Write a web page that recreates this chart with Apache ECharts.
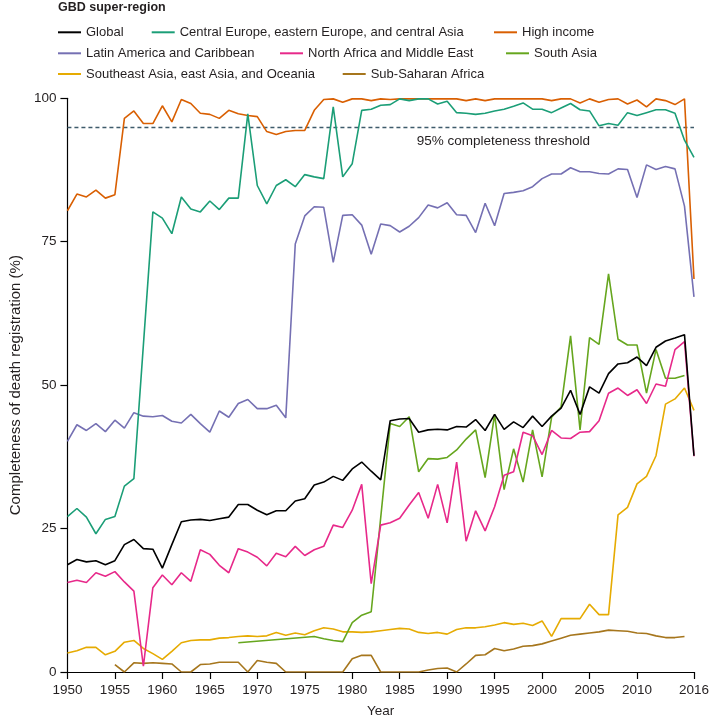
<!DOCTYPE html>
<html>
<head>
<meta charset="utf-8">
<script src="https://cdn.jsdelivr.net/npm/echarts@6/dist/echarts.min.js"></script>
<style>
html,body{margin:0;padding:0;background:#fff;}
#chart{width:712px;height:723px;}
</style>
</head>
<body>
<div id="chart"></div>
<script>
// ---------------- data ----------------
const years = [1950,1951,1952,1953,1954,1955,1956,1957,1958,1959,1960,1961,1962,1963,1964,1965,1966,1967,1968,1969,
  1970,1971,1972,1973,1974,1975,1976,1977,1978,1979,1980,1981,1982,1983,1984,1985,1986,1987,1988,1989,
  1990,1991,1992,1993,1994,1995,1996,1997,1998,1999,2000,2001,2002,2003,2004,2005,2006,2007,2008,2009,
  2010,2011,2012,2013,2014,2015,2016];
const xTickLabels = [1950,1955,1960,1965,1970,1975,1980,1985,1990,1995,2000,2005,2010,2016];
const yTickLabels = [0,25,50,75,100];
const thresholdValue = 95;
const thresholdText = '95% completeness threshold';

const globalVals = [18.7,19.6,19.2,19.4,18.7,19.4,22.2,23.1,21.5,21.4,18.1,22.2,26.2,26.5,26.6,26.4,26.7,27.0,29.2,29.2,
  28.2,27.4,28.1,28.1,29.8,30.2,32.6,33.1,34.1,33.4,35.4,36.6,35.0,33.5,43.8,44.1,44.2,41.8,42.2,42.3,
  42.2,42.8,42.7,44.0,42.1,44.9,42.3,43.6,42.6,44.6,42.8,44.6,46.0,49.1,44.9,49.7,48.6,52.0,53.7,53.9,
  54.9,53.4,56.6,57.7,58.2,58.8,37.7];
const centralEuropeVals = [27.1,28.5,27.0,24.1,26.6,27.1,32.4,33.7,null,80.2,79.1,76.4,82.8,80.7,80.2,82.1,80.6,82.6,82.6,97.3,
  84.8,81.6,84.8,85.8,84.6,86.7,86.3,86.0,98.5,86.3,88.6,97.9,98.1,98.8,98.9,99.9,99.6,99.9,99.9,99.0,
  99.5,97.5,97.4,97.2,97.4,97.8,98.1,98.6,99.2,98.1,98.1,97.5,98.3,99.1,98.0,97.8,95.2,95.6,95.3,97.5,
  97.0,97.5,98.0,98.0,97.4,92.7,89.7];
const highIncomeVals = [80.4,83.3,82.8,84.0,82.6,83.2,96.5,97.8,95.6,95.6,98.7,95.9,99.8,99.1,97.4,97.2,96.5,97.9,97.3,97.0,
  96.8,94.2,93.7,94.2,94.4,94.4,97.9,99.8,99.9,99.3,99.9,99.9,99.6,99.9,99.8,99.9,99.9,99.9,99.9,99.9,
  99.9,99.9,99.6,99.9,99.6,99.9,99.9,99.9,99.9,99.9,99.9,99.6,99.9,99.9,99.2,99.9,99.3,99.8,99.9,99.0,
  99.7,98.5,99.9,99.6,98.9,99.9,68.5];
const latinAmericaVals = [40.2,43.1,42.1,43.3,41.9,43.9,42.5,45.2,44.6,44.5,44.7,43.7,43.4,44.9,43.3,41.8,45.5,44.4,46.8,47.5,
  45.9,45.9,46.5,44.3,74.6,79.5,81.1,81.0,71.4,79.6,79.7,77.9,72.8,78.1,77.8,76.7,77.7,79.2,81.4,80.9,
  81.8,79.7,79.6,76.6,81.7,77.8,83.4,83.6,83.9,84.6,86.0,86.8,86.8,87.9,87.2,87.2,86.9,86.8,87.7,87.6,
  82.7,88.4,87.6,88.1,87.7,81.2,65.4];
const northAfricaVals = [15.6,16.0,15.6,17.3,16.7,17.5,15.7,14.1,1.0,14.7,16.9,15.2,17.3,15.8,21.3,20.5,18.6,17.3,21.5,20.9,
  20.0,18.5,20.7,20.1,21.9,20.3,21.3,21.9,25.6,25.2,28.2,32.7,15.4,25.6,26.0,26.8,29.1,31.3,26.8,32.7,
  26.0,36.6,22.8,28.1,24.6,28.8,34.3,34.9,41.8,41.2,37.9,42.1,40.8,40.7,41.8,41.9,43.8,48.6,49.5,48.2,
  49.2,46.8,50.2,49.8,56.2,57.6,37.6];
const southAsiaVals = [null,null,null,null,null,null,null,null,null,null,null,null,null,null,null,null,null,null,5.1,null,
  null,null,null,null,null,null,6.2,5.8,5.5,5.3,8.6,9.9,10.5,null,43.3,42.8,44.5,34.9,37.2,37.1,
  37.4,38.7,40.6,42.2,33.9,44.9,31.8,38.9,33.1,42.2,34.0,44.4,46.2,58.6,42.2,58.3,57.1,69.4,58.0,57.0,
  57.0,48.6,56.2,51.2,51.2,51.7,null];
const southeastAsiaVals = [3.3,3.7,4.3,4.3,3.0,3.6,5.2,5.5,4.1,3.2,2.2,3.6,5.1,5.5,5.6,5.6,5.9,6.0,6.2,6.3,
  6.2,6.3,6.9,6.4,6.8,6.5,7.2,7.7,7.5,7.0,7.0,6.9,7.0,7.2,7.4,7.6,7.5,6.9,6.7,6.9,
  6.6,7.4,7.7,7.7,7.9,8.2,8.6,8.3,8.5,8.1,8.9,6.2,9.3,9.3,9.3,11.8,10.0,10.0,27.4,28.7,
  32.8,34.1,37.7,46.7,47.6,49.5,45.6];
const subSaharanVals = [null,null,null,null,null,1.3,0,1.6,1.5,1.6,1.5,1.4,0,0,1.3,1.4,1.7,1.7,1.7,0,
  2.0,1.7,1.5,0,0,0,0,0,0,0,2.3,2.9,2.9,0,0,0,0,0,0.35,0.6,
  0.7,0,1.4,2.9,3.0,4.1,3.7,4.0,4.5,4.6,4.9,5.4,5.9,6.4,6.6,6.8,7.0,7.3,7.2,7.1,
  6.8,6.7,6.3,6.0,6.0,6.2,null];

const seriesNames = ['Global','Central Europe, eastern Europe, and central Asia','High income',
  'Latin America and Caribbean','North Africa and Middle East','South Asia',
  'Southeast Asia, east Asia, and Oceania','Sub-Saharan Africa'];
const seriesValues = [globalVals, centralEuropeVals, highIncomeVals, latinAmericaVals,
  northAfricaVals, southAsiaVals, southeastAsiaVals, subSaharanVals];
const seriesColors = ['#000000','#1b9e77','#d95f02','#7570b3','#e7298a','#66a61e','#e6ab02','#a6761d'];

// ---------------- chart ----------------
const FONT = "'Liberation Sans', Arial, sans-serif";
const TXT = '#231f20';

function pairs(vals){
  const out = [];
  vals.forEach((v,i)=>{ if(v!==null && v!==undefined) out.push([years[i], v]); });
  return out;
}

const series = [];
for (let i = seriesNames.length - 1; i >= 0; i--) {
  const s = {
    name: seriesNames[i],
    type: 'line',
    data: pairs(seriesValues[i]),
    showSymbol: false,
    symbol: 'none',
    connectNulls: true,
    color: seriesColors[i],
    lineStyle: { width: 1.6, color: seriesColors[i] },
    emphasis: { disabled: true },
    animation: false,
    z: 2 + (seriesNames.length - i)
  };
  if (i === 0) {
    s.markLine = {
      silent: true,
      symbol: 'none',
      animation: false,
      label: { show: false },
      lineStyle: { type: [4, 3], color: '#3f5b6b', width: 1.4 },
      data: [{ yAxis: thresholdValue }]
    };
  }
  series.push(s);
}

// legend positions (line start x, row centre y)
const legendPos = [[58,32.3],[151.7,32.3],[494,32.3],[58,53.3],[280,53.3],[506,53.3],[58,74],[342.7,74]];
const legendFont = 13;
const legends = seriesNames.map((n, i) => ({
  data: [n],
  left: legendPos[i][0],
  top: legendPos[i][1] - legendFont / 2,
  padding: 0,
  icon: 'rect',
  itemWidth: 23,
  itemHeight: 2,
  selectedMode: false,
  textStyle: { fontFamily: FONT, fontSize: legendFont, color: TXT, padding: [0,0,0,0] }
}));

const chart = echarts.init(document.getElementById('chart'), null, { renderer: 'canvas' });
chart.setOption({
  animation: false,
  backgroundColor: '#ffffff',
  textStyle: { fontFamily: FONT },
  title: {
    text: 'GBD super-region',
    left: 58, top: 1, padding: 0,
    textStyle: { fontFamily: FONT, fontSize: 12.5, fontWeight: 'bold', color: TXT }
  },
  legend: legends,
  grid: { left: 58, right: 15, top: 98.3, bottom: 46.3, containLabel: false },
  xAxis: {
    type: 'value',
    min: 1950, max: 2016,
    name: 'Year',
    nameLocation: 'middle',
    nameGap: 32,
    nameTextStyle: { fontFamily: FONT, fontSize: 13.5, color: TXT },
    axisLine: { show: true, lineStyle: { color: '#000', width: 1.2 } },
    axisTick: { show: true, length: 7, customValues: xTickLabels, lineStyle: { color: '#000', width: 1.2 } },
    axisLabel: { customValues: xTickLabels, margin: 11, fontFamily: FONT, fontSize: 13.5, color: TXT, formatter: v => String(v) },
    splitLine: { show: false }
  },
  yAxis: {
    type: 'value',
    min: 0, max: 100, interval: 25,
    name: 'Completeness of death registration (%)',
    nameLocation: 'middle',
    nameGap: 40,
    nameTextStyle: { fontFamily: FONT, fontSize: 15, color: TXT },
    axisLine: { show: true, lineStyle: { color: '#000', width: 1.2 } },
    axisTick: { show: true, length: 7, customValues: yTickLabels, lineStyle: { color: '#000', width: 1.2 } },
    axisLabel: { customValues: yTickLabels, margin: 11, fontFamily: FONT, fontSize: 13.5, color: TXT },
    splitLine: { show: false }
  },
  graphic: [{
    type: 'text',
    x: 503.4, y: 141.7,
    silent: true,
    style: { text: thresholdText, fontFamily: FONT, fontSize: 13.5, fill: TXT, align: 'center', verticalAlign: 'middle' }
  }],
  series: series
});
</script>
</body>
</html>
